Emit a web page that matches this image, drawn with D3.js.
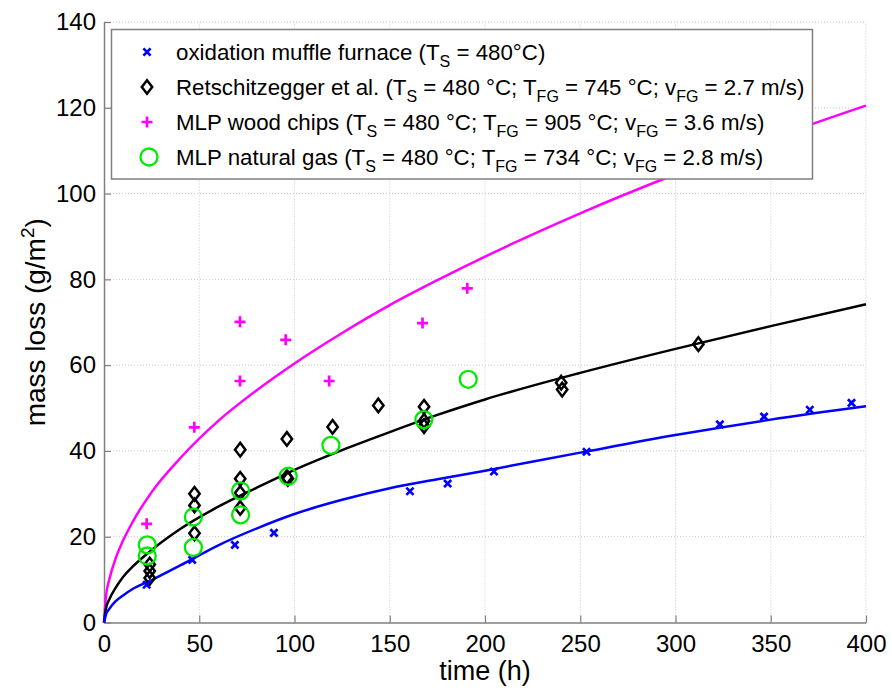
<!DOCTYPE html>
<html>
<head>
<meta charset="utf-8">
<script src="https://cdn.jsdelivr.net/npm/d3@7"></script>
<style>
  html, body { margin: 0; padding: 0; background: #fff; }
  svg { display: block; font-family: "Liberation Sans", Arial, sans-serif; }
</style>
</head>
<body>
<svg id="chart" width="892" height="688"></svg>
<script>
// Axis ticks
const timeTicks = [0, 50, 100, 150, 200, 250, 300, 350, 400];
const massTicks = [0, 20, 40, 60, 80, 100, 120, 140];

// oxidation muffle furnace (blue x)
const muffleTime = [22.4, 46.3, 68.7, 89.2, 160.6, 180.4, 204.7, 253.3, 323.3, 346.5, 370.5, 392.4];
const muffleMass = [8.8, 14.6, 18.1, 20.9, 30.6, 32.4, 35.2, 39.8, 46.2, 48.0, 49.6, 51.2];

// Retschitzegger et al. (black diamonds)
const retTime = [24, 24, 24, 47.5, 47.5, 47.5, 71.5, 71.5, 71.5, 71.5, 96, 96, 96.5, 120, 144, 168, 168, 168, 240, 240.5, 312];
const retMass = [10.4, 12.0, 13.5, 30.0, 27.3, 20.8, 40.3, 33.5, 30.2, 26.7, 42.8, 33.9, 33.5, 45.6, 50.6, 50.3, 45.8, 47.0, 55.9, 54.3, 64.9];

// MLP wood chips (magenta +)
const woodTime = [22.4, 47.4, 71.4, 71.4, 95.4, 118.2, 167.2, 190.7];
const woodMass = [23.0, 45.5, 70.1, 56.3, 65.9, 56.3, 69.8, 77.9];

// MLP natural gas (green circles)
const gasTime = [22.7, 22.7, 46.9, 46.9, 71.7, 71.7, 96.7, 119.1, 167.9, 191.2];
const gasMass = [18.1, 15.5, 24.6, 17.5, 30.7, 25.1, 34.1, 41.3, 47.3, 56.7];

// fitted curves
const fitTime  = [0, 1, 3, 6, 10, 15, 25, 40, 60, 80, 100, 125, 150, 175, 200, 250, 300, 350, 400];
const fitBlue  = [0, 1.8, 3.3, 4.9, 6.3, 7.8, 9.9, 13.3, 18.0, 21.9, 25.3, 28.6, 31.3, 33.4, 35.4, 39.6, 43.7, 47.3, 50.4];
const fitBlack = [0, 3.2, 5.6, 8.0, 10.6, 13.0, 16.9, 21.8, 27.0, 31.4, 35.6, 40.2, 44.4, 48.4, 52.0, 58.2, 63.8, 69.1, 74.2];
const fitPink  = [0, 6.0, 10.4, 14.8, 19.1, 23.4, 30.4, 38.3, 47.0, 54.1, 60.4, 67.5, 74.0, 79.8, 85.3, 95.4, 104.5, 112.8, 120.5];

const BLUE = '#0000ff', PINK = '#ff00ff', GREEN = '#00ea00', BLACK = '#000000';

const svg = d3.select('#chart');
const margin = { left: 104, right: 26, top: 22, bottom: 65.5 };
const W = 892, H = 688;

const x = d3.scaleLinear().domain([0, 400]).range([margin.left, W - margin.right]);
const y = d3.scaleLinear().domain([0, 140]).range([H - margin.bottom, margin.top]);

// --- grid (dotted) ---
const grid = svg.append('g').attr('stroke', '#c8c8c8').attr('stroke-width', 1).attr('stroke-dasharray', '1,2');
grid.selectAll('.gx').data(timeTicks.slice(1)).join('line')
  .attr('x1', d => x(d)).attr('x2', d => x(d))
  .attr('y1', y(0)).attr('y2', y(140));
grid.selectAll('.gy').data(massTicks.slice(1)).join('line')
  .attr('x1', x(0)).attr('x2', x(400))
  .attr('y1', d => y(d)).attr('y2', d => y(d));

// --- axes: ticks point inward, only left and bottom lines ---
const xAxis = svg.append('g')
  .attr('transform', `translate(0,${y(0)})`)
  .call(d3.axisBottom(x).tickValues(timeTicks).tickSizeInner(-7).tickSizeOuter(0).tickPadding(11));
const yAxis = svg.append('g')
  .attr('transform', `translate(${x(0)},0)`)
  .call(d3.axisLeft(y).tickValues(massTicks).tickSizeInner(-7).tickSizeOuter(0).tickPadding(8));

[xAxis, yAxis].forEach(a => {
  a.select('.domain').attr('stroke', '#7f7f7f').attr('stroke-width', 1.5);
  a.selectAll('.tick line').attr('stroke', '#7f7f7f').attr('stroke-width', 1.2);
  a.selectAll('.tick text').attr('fill', '#000').attr('font-size', 24)
    .attr('font-family', '"Liberation Sans", Arial, sans-serif');
});
xAxis.selectAll('.tick text').attr('dy', '0.75em');

// axis titles
svg.append('text')
  .attr('x', x(200)).attr('y', 680)
  .attr('text-anchor', 'middle').attr('font-size', 27).attr('fill', '#000')
  .text('time (h)');

const yl = svg.append('text')
  .attr('transform', `translate(45,${y(70)}) rotate(-90)`)
  .attr('text-anchor', 'middle').attr('font-size', 28).attr('fill', '#000');
yl.append('tspan').text('mass loss (g/m');
yl.append('tspan').attr('font-size', 19).attr('dy', -11).text('2');
yl.append('tspan').attr('dy', 11).text(')');

// --- fitted curves ---
const curve = vals => d3.line()
  .x((d, i) => x(fitTime[i]))
  .y(d => y(d))
  .curve(d3.curveMonotoneX)(vals);

const curves = svg.append('g').attr('fill', 'none').attr('stroke-width', 2.5);
curves.append('path').attr('d', curve(fitPink)).attr('stroke', PINK);
curves.append('path').attr('d', curve(fitBlack)).attr('stroke', BLACK);
curves.append('path').attr('d', curve(fitBlue)).attr('stroke', BLUE);

// --- marker shapes ---
const crossPath = (cx, cy, s) => `M${cx - s},${cy - s}L${cx + s},${cy + s}M${cx - s},${cy + s}L${cx + s},${cy - s}`;
const plusPath = (cx, cy, s) => `M${cx - s},${cy}H${cx + s}M${cx},${cy - s}V${cy + s}`;
const diamondPath = (cx, cy, w, h) => `M${cx},${cy - h}L${cx + w},${cy}L${cx},${cy + h}L${cx - w},${cy}Z`;

const marks = svg.append('g');

marks.selectAll('.ret').data(retTime).join('path')
  .attr('d', (d, i) => diamondPath(x(d), y(retMass[i]), 5.2, 6.8))
  .attr('fill', 'none').attr('stroke', BLACK).attr('stroke-width', 2.5);

marks.selectAll('.muf').data(muffleTime).join('path')
  .attr('d', (d, i) => crossPath(x(d), y(muffleMass[i]), 3.6))
  .attr('stroke', BLUE).attr('stroke-width', 2.7);

marks.selectAll('.wood').data(woodTime).join('path')
  .attr('d', (d, i) => plusPath(x(d), y(woodMass[i]), 5.5))
  .attr('stroke', PINK).attr('stroke-width', 2.7);

marks.selectAll('.gas').data(gasTime).join('circle')
  .attr('cx', d => x(d)).attr('cy', (d, i) => y(gasMass[i])).attr('r', 8.5)
  .attr('fill', 'none').attr('stroke', GREEN).attr('stroke-width', 2.3);

// --- legend ---
const legend = svg.append('g');
legend.append('rect')
  .attr('x', 111.5).attr('y', 29.5).attr('width', 701).attr('height', 149.5)
  .attr('fill', '#fff').attr('stroke', '#7f7f7f').attr('stroke-width', 1.5);

const legendRows = [
  [['oxidation muffle furnace (T'], ['S', 1], [' = 480°C)']],
  [['Retschitzegger et al. (T'], ['S', 1], [' = 480 °C; T'], ['FG', 1], [' = 745 °C; v'], ['FG', 1], [' = 2.7 m/s)']],
  [['MLP wood chips (T'], ['S', 1], [' = 480 °C; T'], ['FG', 1], [' = 905 °C; v'], ['FG', 1], [' = 3.6 m/s)']],
  [['MLP natural gas (T'], ['S', 1], [' = 480 °C; T'], ['FG', 1], [' = 734 °C; v'], ['FG', 1], [' = 2.8 m/s)']]
];
const rowY = [52, 87, 122, 157];
const mx = 147;

legendRows.forEach((parts, r) => {
  const t = legend.append('text')
    .attr('x', 176).attr('y', rowY[r] + 8)
    .attr('font-size', 22.3).attr('fill', '#000');
  let shifted = false;
  parts.forEach(([txt, sub]) => {
    const ts = t.append('tspan').text(txt);
    if (sub && !shifted) { ts.attr('dy', 7).attr('font-size', 16); shifted = true; }
    else if (!sub && shifted) { ts.attr('dy', -7); shifted = false; }
  });
});

legend.append('path').attr('d', crossPath(mx, rowY[0], 3.6)).attr('stroke', BLUE).attr('stroke-width', 2.7);
legend.append('path').attr('d', diamondPath(mx, rowY[1], 5.2, 6.8)).attr('fill', 'none').attr('stroke', BLACK).attr('stroke-width', 2.5);
legend.append('path').attr('d', plusPath(mx, rowY[2], 5.5)).attr('stroke', PINK).attr('stroke-width', 2.7);
legend.append('circle').attr('cx', mx + 2).attr('cy', rowY[3]).attr('r', 8.5)
  .attr('fill', 'none').attr('stroke', GREEN).attr('stroke-width', 2.3);
</script>
</body>
</html>
